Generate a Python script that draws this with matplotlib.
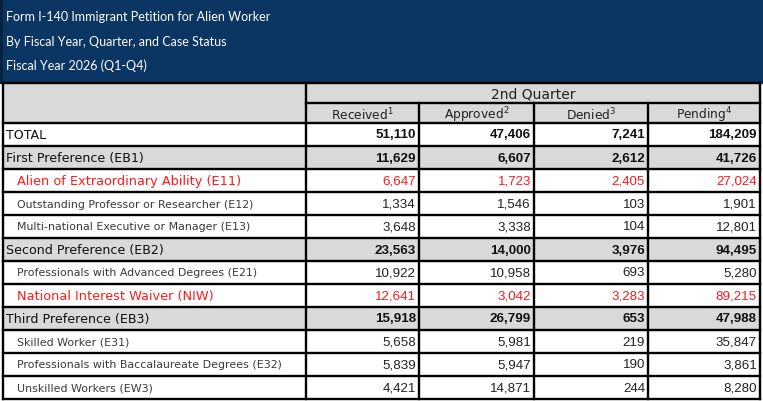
import matplotlib.pyplot as plt
from matplotlib.patches import Rectangle

title_lines = ["Form I-140 Immigrant Petition for Alien Worker",
               "By Fiscal Year, Quarter, and Case Status",
               "Fiscal Year 2026 (Q1-Q4)"]
quarter = "2nd Quarter"
columns = ["Received$^1$", "Approved$^2$", "Denied$^3$", "Pending$^4$"]

categories = ["TOTAL",
              "First Preference (EB1)",
              "Alien of Extraordinary Ability (E11)",
              "Outstanding Professor or Researcher (E12)",
              "Multi-national Executive or Manager (E13)",
              "Second Preference (EB2)",
              "Professionals with Advanced Degrees (E21)",
              "National Interest Waiver (NIW)",
              "Third Preference (EB3)",
              "Skilled Worker (E31)",
              "Professionals with Baccalaureate Degrees (E32)",
              "Unskilled Workers (EW3)"]
row_kind = ["total", "section", "red", "sub", "sub", "section",
            "sub", "red", "section", "sub", "sub", "sub"]

received = [51110, 11629, 6647, 1334, 3648, 23563, 10922, 12641, 15918, 5658, 5839, 4421]
approved = [47406, 6607, 1723, 1546, 3338, 14000, 10958, 3042, 26799, 5981, 5947, 14871]
denied = [7241, 2612, 2405, 103, 104, 3976, 693, 3283, 653, 219, 190, 244]
pending = [184209, 41726, 27024, 1901, 12801, 94495, 5280, 89215, 47988, 35847, 3861, 8280]

W, H = 763, 401
fig = plt.figure(figsize=(W / 100, H / 100), dpi=100)
ax = fig.add_axes([0, 0, 1, 1])
ax.set_xlim(0, W)
ax.set_ylim(H, 0)
ax.axis("off")
plt.rcParams["mathtext.fontset"] = "dejavusans"

blue = "#0b3563"
gray = "#d9d9d9"
red = "#ff1a1a"
lw = 1.7

col_x = [3, 306, 419, 534, 648, 760]
band_h = 82
h1_top, h2_top, body_top = 83, 103, 123
row_h = 23
n = len(categories)
bottom = body_top + n * row_h

# title band
ax.add_patch(Rectangle((0, 0), W, band_h + 1, color=blue, zorder=0))
ax.plot([1, 1], [0, band_h], color="#06223f", lw=2)
for i, t in enumerate(title_lines):
    ax.text(6, 17 + i * 24.5, t, color="white", fontsize=9.0, family="Lato",
            va="center", ha="left")

# header
ax.add_patch(Rectangle((col_x[0], h1_top), col_x[-1] - col_x[0], body_top - h1_top,
                       color=gray, zorder=0))
ax.text((col_x[1] + col_x[-1]) / 2, (h1_top + h2_top) / 2 + 1, quarter,
        fontsize=10, family="DejaVu Sans", color="#222222", ha="center", va="center")
for j, c in enumerate(columns):
    ax.text((col_x[j + 1] + col_x[j + 2]) / 2, (h2_top + body_top) / 2 + 2, c,
            fontsize=8.8, family="DejaVu Sans", color="#222222", ha="center", va="center")

# body
values = list(zip(received, approved, denied, pending))
for i, (label, kind) in enumerate(zip(categories, row_kind)):
    top = body_top + i * row_h
    yc = top + row_h / 2 + 1
    if kind == "section":
        ax.add_patch(Rectangle((col_x[0], top), col_x[-1] - col_x[0], row_h,
                               color=gray, zorder=0))
    if kind in ("total", "section"):
        lx, lcol, lsize, lweight = 6, "#111111", 9.1, "normal"
        ncol, nweight = "#111111", "bold"
    elif kind == "red":
        lx, lcol, lsize, lweight = 17, red, 9.3, "normal"
        ncol, nweight = red, "normal"
    else:
        lx, lcol, lsize, lweight = 17, "#3a3a3a", 7.9, "normal"
        ncol, nweight = "#222222", "normal"
    ax.text(lx, yc, label, fontsize=lsize, color=lcol, weight=lweight,
            family="DejaVu Sans", ha="left", va="center")
    for j, v in enumerate(values[i]):
        ax.text(col_x[j + 2] - 3, yc, f"{v:,}", fontsize=9.6, color=ncol,
                weight=nweight, family="Liberation Sans", ha="right", va="center")

# grid lines
ax.plot([col_x[1], col_x[-1]], [h2_top, h2_top], color="black", lw=lw)
for k in range(n + 1):
    y = body_top + k * row_h
    ax.plot([col_x[0], col_x[-1]], [y, y], color="black", lw=lw)
ax.plot([col_x[0], col_x[-1]], [h1_top, h1_top], color="black", lw=lw)
ax.plot([col_x[0], col_x[0]], [h1_top, bottom], color="black", lw=lw)
ax.plot([col_x[1], col_x[1]], [h1_top, bottom], color="black", lw=lw)
ax.plot([col_x[-1], col_x[-1]], [h1_top, bottom], color="black", lw=lw)
for x in col_x[2:-1]:
    ax.plot([x, x], [h2_top, bottom], color="black", lw=lw)

fig.savefig("out.png", dpi=100)
